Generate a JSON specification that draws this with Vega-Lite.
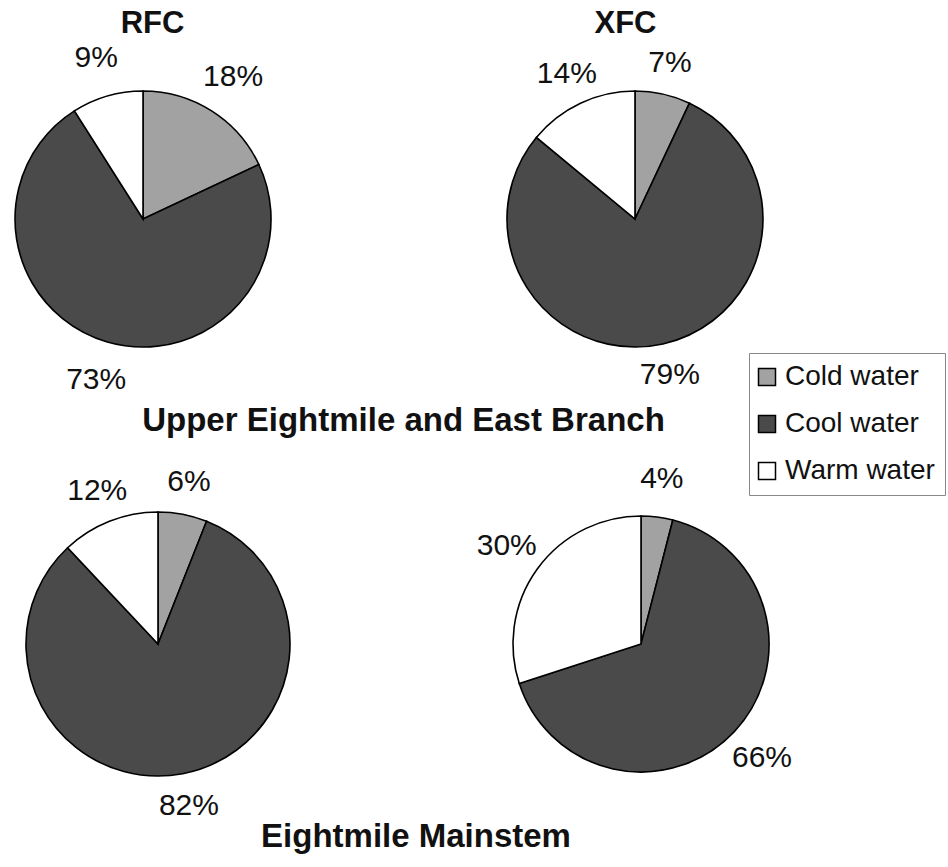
{
  "$schema": "https://vega.github.io/schema/vega-lite/v6.json",
  "padding": 0,
  "background": "white",
  "bounds": "flush",
  "spacing": 0,
  "config": {
    "view": {"stroke": null},
    "font": "Liberation Sans",
    "text": {"font": "Liberation Sans", "color": "#111111"},
    "legend": {
      "title": null,
      "symbolType": "square",
      "symbolSize": 289,
      "symbolStrokeColor": "#000000",
      "symbolStrokeWidth": 1.5,
      "symbolOpacity": 1,
      "symbolOffset": -6,
      "labelFont": "Liberation Sans",
      "labelFontSize": 28,
      "labelColor": "#111111",
      "labelOffset": 4,
      "labelLimit": 400,
      "rowPadding": 19,
      "padding": 10,
      "strokeColor": "#888888",
      "fillColor": "white"
    }
  },
  "datasets": {
    "pies": [
      {"section": "Upper Eightmile and East Branch", "method": "RFC", "type": "Cold water", "share": 0.18},
      {"section": "Upper Eightmile and East Branch", "method": "RFC", "type": "Cool water", "share": 0.73},
      {"section": "Upper Eightmile and East Branch", "method": "RFC", "type": "Warm water", "share": 0.09},
      {"section": "Upper Eightmile and East Branch", "method": "XFC", "type": "Cold water", "share": 0.07},
      {"section": "Upper Eightmile and East Branch", "method": "XFC", "type": "Cool water", "share": 0.79},
      {"section": "Upper Eightmile and East Branch", "method": "XFC", "type": "Warm water", "share": 0.14},
      {"section": "Eightmile Mainstem", "method": "RFC", "type": "Cold water", "share": 0.06},
      {"section": "Eightmile Mainstem", "method": "RFC", "type": "Cool water", "share": 0.82},
      {"section": "Eightmile Mainstem", "method": "RFC", "type": "Warm water", "share": 0.12},
      {"section": "Eightmile Mainstem", "method": "XFC", "type": "Cold water", "share": 0.04},
      {"section": "Eightmile Mainstem", "method": "XFC", "type": "Cool water", "share": 0.66},
      {"section": "Eightmile Mainstem", "method": "XFC", "type": "Warm water", "share": 0.30}
    ],
    "titles": [
      {"label": "RFC", "role": "method"},
      {"label": "XFC", "role": "method"},
      {"label": "Upper Eightmile and East Branch", "role": "section"},
      {"label": "Eightmile Mainstem", "role": "section"}
    ]
  },
  "vconcat": [
    {
      "width": 778, "height": 48,
      "data": {"name": "titles"},
      "transform": [{"filter": "datum.role === 'method'"}],
      "mark": {"type": "text", "fontSize": 31, "fontWeight": "bold"},
      "encoding": {
        "x": {"field": "label", "type": "nominal", "scale": {"type": "point", "padding": 0.3224}, "axis": null},
        "text": {"field": "label", "type": "nominal"}
      }
    },
    {
      "width": 778, "height": 342,
      "data": {"name": "pies"},
      "transform": [{"filter": "datum.section === 'Upper Eightmile and East Branch'"}],
      "encoding": {
        "x": {"field": "method", "type": "nominal", "scale": {"type": "point", "padding": 0.2907}, "axis": null},
        "theta": {"field": "share", "type": "quantitative", "stack": true},
        "order": {"field": "type", "type": "ordinal", "sort": "ascending"}
      },
      "layer": [
        {
          "transform": [{"filter": "datum.method === 'RFC'"}],
          "mark": {"type": "arc", "outerRadius": 128, "stroke": "#000000", "strokeWidth": 1.6},
          "encoding": {
            "color": {"field": "type", "type": "nominal",
              "scale": {"domain": ["Cold water", "Cool water", "Warm water"], "range": ["#a2a2a2", "#4a4a4a", "#ffffff"]},
              "legend": {"orient": "none", "legendX": 749, "legendY": 353}}
          }
        },
        {
          "transform": [{"filter": "datum.method === 'RFC'"}],
          "mark": {"type": "text", "radius": 168, "fontSize": 30},
          "encoding": {"text": {"field": "share", "type": "quantitative", "format": ".0%"}}
        },
        {
          "transform": [{"filter": "datum.method === 'XFC'"}],
          "mark": {"type": "arc", "outerRadius": 128, "stroke": "#000000", "strokeWidth": 1.6},
          "encoding": {
            "color": {"field": "type", "type": "nominal",
              "scale": {"domain": ["Cold water", "Cool water", "Warm water"], "range": ["#a2a2a2", "#4a4a4a", "#ffffff"]},
              "legend": {"orient": "none", "legendX": 749, "legendY": 353}}
          }
        },
        {
          "transform": [{"filter": "datum.method === 'XFC'"}],
          "mark": {"type": "text", "radius": 160, "fontSize": 30},
          "encoding": {"text": {"field": "share", "type": "quantitative", "format": ".0%"}}
        }
      ]
    },
    {
      "width": 807, "height": 61,
      "data": {"name": "titles"},
      "transform": [{"filter": "datum.label === 'Upper Eightmile and East Branch'"}],
      "mark": {"type": "text", "fontSize": 33, "fontWeight": "bold"},
      "encoding": {"text": {"field": "label", "type": "nominal"}}
    },
    {
      "width": 799, "height": 386,
      "data": {"name": "pies"},
      "transform": [{"filter": "datum.section === 'Eightmile Mainstem'"}],
      "encoding": {
        "x": {"field": "method", "type": "nominal", "scale": {"type": "point", "padding": 0.3271}, "axis": null},
        "theta": {"field": "share", "type": "quantitative", "stack": true},
        "order": {"field": "type", "type": "ordinal", "sort": "ascending"}
      },
      "layer": [
        {
          "transform": [{"filter": "datum.method === 'RFC'"}],
          "mark": {"type": "arc", "outerRadius": 132, "stroke": "#000000", "strokeWidth": 1.6},
          "encoding": {
            "color": {"field": "type", "type": "nominal",
              "scale": {"domain": ["Cold water", "Cool water", "Warm water"], "range": ["#a2a2a2", "#4a4a4a", "#ffffff"]},
              "legend": {"orient": "none", "legendX": 749, "legendY": 353}}
          }
        },
        {
          "transform": [{"filter": "datum.method === 'RFC'"}],
          "mark": {"type": "text", "radius": 165, "fontSize": 30},
          "encoding": {"text": {"field": "share", "type": "quantitative", "format": ".0%"}}
        },
        {
          "transform": [{"filter": "datum.method === 'XFC'"}],
          "mark": {"type": "arc", "outerRadius": 128, "stroke": "#000000", "strokeWidth": 1.6},
          "encoding": {
            "color": {"field": "type", "type": "nominal",
              "scale": {"domain": ["Cold water", "Cool water", "Warm water"], "range": ["#a2a2a2", "#4a4a4a", "#ffffff"]},
              "legend": {"orient": "none", "legendX": 749, "legendY": 353}}
          }
        },
        {
          "transform": [{"filter": "datum.method === 'XFC'"}],
          "mark": {"type": "text", "radius": 166, "fontSize": 30},
          "encoding": {"text": {"field": "share", "type": "quantitative", "format": ".0%"}}
        }
      ]
    },
    {
      "width": 832, "height": 20,
      "data": {"name": "titles"},
      "transform": [{"filter": "datum.label === 'Eightmile Mainstem'"}],
      "mark": {"type": "text", "fontSize": 33, "fontWeight": "bold", "baseline": "alphabetic"},
      "encoding": {"text": {"field": "label", "type": "nominal"}}
    }
  ]
}
